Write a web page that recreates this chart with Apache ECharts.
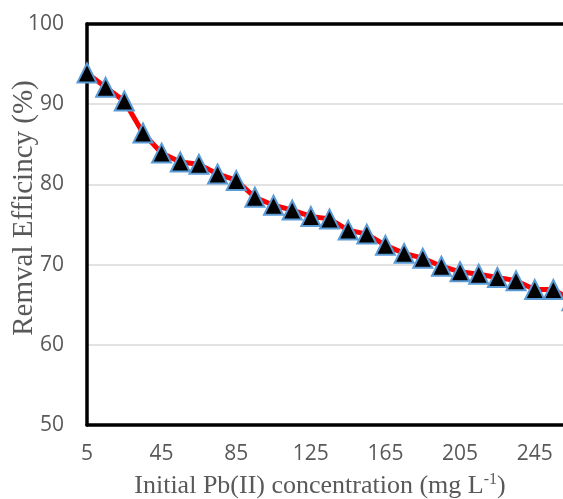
<!DOCTYPE html>
<html>
<head>
<meta charset="utf-8">
<script src="https://cdn.jsdelivr.net/npm/echarts@6/dist/echarts.min.js"></script>
<style>
  html, body { margin: 0; padding: 0; overflow: hidden; background: #fff; }
  #main { width: 600px; height: 499px; }
</style>
</head>
<body>
<div id="main"></div>
<script>
// initial Pb(II) concentration, mg/L
const concentration = [5, 15, 25, 35, 45, 55, 65, 75, 85, 95, 105, 115, 125, 135,
  145, 155, 165, 175, 185, 195, 205, 215, 225, 235, 245, 255, 265];
// removal efficiency, %
const removal = [93.9, 92.1, 90.4, 86.4, 83.9, 82.8, 82.5, 81.3, 80.5, 78.4, 77.4,
  76.8, 76.0, 75.7, 74.3, 73.8, 72.4, 71.4, 70.8, 69.8, 69.1, 68.8, 68.4, 68.0,
  66.9, 66.9, 65.5];
const yTicks = { min: 50, max: 100, step: 10 };

const labelColor = '#595959';
const frame = { show: true, lineStyle: { color: '#000', width: 3.5 } };
let myChart = echarts.init(document.getElementById('main'));

myChart.setOption({
  animation: false,
  grid: {
    left: 87,
    top: 24,
    right: 28,
    bottom: 74,
  },
  xAxis: [
    {
      type: 'category',
      boundaryGap: false,
      data: concentration.map(String),
      axisLine: frame,
      axisTick: { show: false },
      axisLabel: {
        interval: 3,
        margin: 19,
        color: labelColor,
        fontFamily: 'Open Sans',
        fontSize: 21,
      },
    },
    {
      // top edge of the plot frame
      type: 'category',
      position: 'top',
      boundaryGap: false,
      data: concentration.map(String),
      axisLine: frame,
      axisTick: { show: false },
      axisLabel: { show: false },
    },
  ],
  yAxis: {
    type: 'value',
    min: yTicks.min,
    max: yTicks.max,
    interval: yTicks.step,
    axisLine: frame,
    axisTick: { show: false },
    axisLabel: {
      margin: 23,
      color: labelColor,
      fontFamily: 'Open Sans',
      fontSize: 21,
    },
    splitLine: {
      lineStyle: { color: '#d9d9d9', width: 1.5 },
    },
  },
  graphic: [
    {
      type: 'text',
      x: 24,
      y: 208,
      rotation: Math.PI / 2,
      style: {
        text: 'Remval Efficincy (%)',
        fill: labelColor,
        font: '29px "Liberation Serif"',
        align: 'center',
        verticalAlign: 'middle',
      },
    },
    {
      type: 'text',
      x: 320,
      y: 486,
      style: {
        text: 'Initial Pb(II) concentration (mg L{sup|-1})',
        fill: labelColor,
        font: '26px "Liberation Serif"',
        align: 'center',
        verticalAlign: 'middle',
        rich: {
          sup: {
            fontFamily: 'Liberation Serif',
            fontSize: 16,
            fill: labelColor,
            verticalAlign: 'top',
            padding: [0, 0, 12, 0],
          },
        },
      },
    },
  ],
  series: [
    {
      type: 'line',
      data: removal,
      showAllSymbol: true,
      symbol: 'triangle',
      symbolSize: 19,
      lineStyle: { color: '#ff0000', width: 5 },
      itemStyle: {
        color: '#000',
        borderColor: '#5b9bd5',
        borderWidth: 2,
      },
    },
  ],
});
</script>
</body>
</html>
